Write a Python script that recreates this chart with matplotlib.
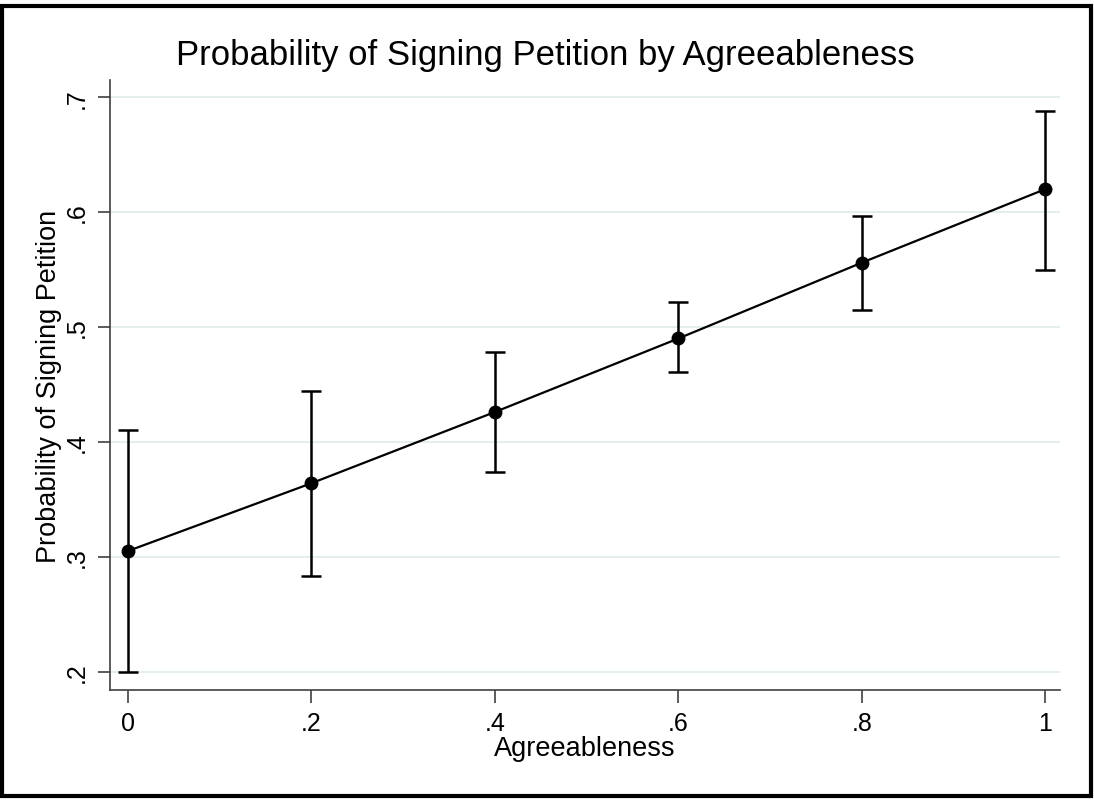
import numpy as np
import matplotlib.pyplot as plt
from matplotlib.patches import Rectangle

# margins at each level of agreeableness
agree = [0, 0.2, 0.4, 0.6, 0.8, 1.0]
prob = [0.305, 0.364, 0.426, 0.490, 0.556, 0.620]
ci_low = [0.200, 0.283, 0.374, 0.461, 0.515, 0.550]
ci_high = [0.410, 0.444, 0.478, 0.522, 0.597, 0.688]

xticks = [0, 0.2, 0.4, 0.6, 0.8, 1.0]
xtick_labels = ['0', '.2', '.4', '.6', '.8', '1']
yticks = [0.2, 0.3, 0.4, 0.5, 0.6, 0.7]
ytick_labels = ['.2', '.3', '.4', '.5', '.6', '.7']

plt.rcParams['font.family'] = ['Liberation Sans', 'DejaVu Sans']

fig = plt.figure(figsize=(10.94, 8.03), dpi=100)
ax = fig.add_axes([110 / 1094, 1 - 691 / 803, 950 / 1094, 610 / 803])

prob = np.array(prob)
yerr = [prob - np.array(ci_low), np.array(ci_high) - prob]
ax.errorbar(agree, prob, yerr=yerr, color='black', linewidth=1.6,
            elinewidth=1.8, capsize=7, capthick=1.8,
            marker='o', markersize=9, zorder=3)

ax.set_xlim(-0.0196, 1.016)
ax.set_ylim(0.184, 0.715)
ax.set_xticks(xticks, xtick_labels)
ax.set_yticks(yticks, ytick_labels, rotation=90, va='center')

# Stata-like look
for side in ['top', 'right']:
    ax.spines[side].set_visible(False)
for side in ['left', 'bottom']:
    ax.spines[side].set_color('#404040')
    ax.spines[side].set_linewidth(1.2)
ax.grid(axis='y', color='#e4eeee', linewidth=1.4)
ax.set_axisbelow(True)
ax.tick_params(axis='both', labelsize=18, length=9, width=1.2,
               color='#404040', pad=6)

ax.set_xlabel('Agreeableness', fontsize=19.5, labelpad=0)
ax.set_ylabel('Probability of Signing Petition', fontsize=19.5, labelpad=2)
fig.text(545 / 1094, 1 - 55 / 803, 'Probability of Signing Petition by Agreeableness',
         ha='center', va='center', fontsize=25)

# black frame around the whole figure
fig.patches.append(Rectangle((2 / 1094, 6 / 803), 1089 / 1094, 790 / 803,
                             transform=fig.transFigure, fill=False,
                             edgecolor='black', linewidth=3))

fig.savefig('out.png', dpi=100)
